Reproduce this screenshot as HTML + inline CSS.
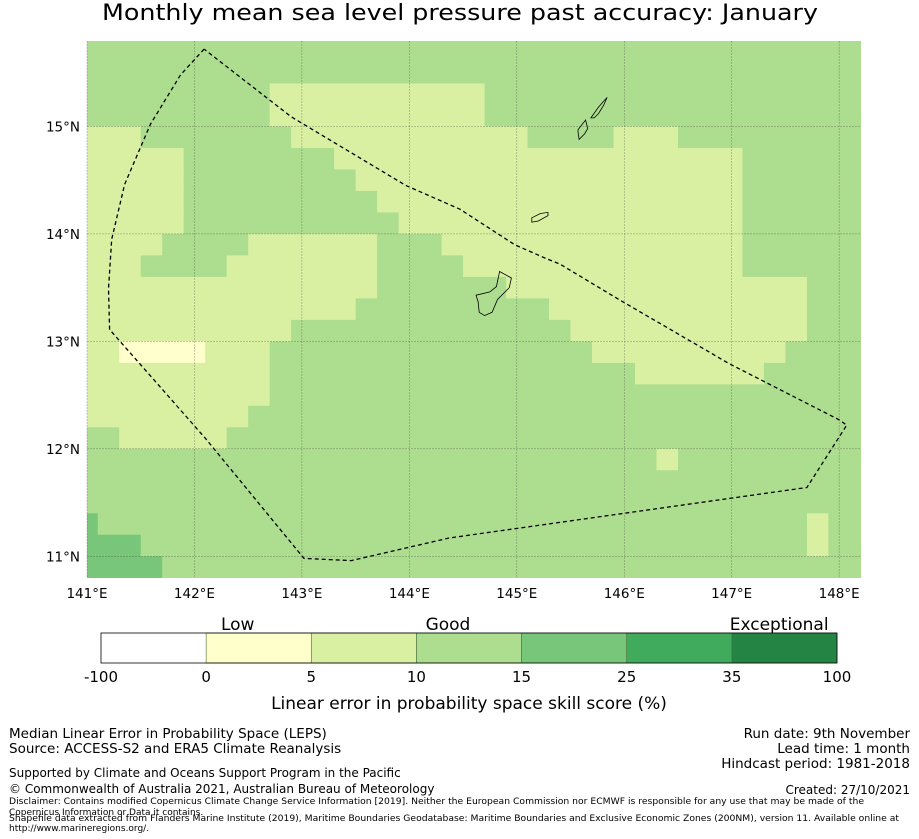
<!DOCTYPE html>
<html><head><meta charset="utf-8"><style>
html,body{margin:0;padding:0;background:#fff;}
svg{display:block;font-family:"DejaVu Sans","Liberation Sans",sans-serif;}
</style></head><body>
<svg id="chart" width="919" height="839" viewBox="0 0 919 839" xmlns="http://www.w3.org/2000/svg">
<text x="460" y="20" font-size="22" text-anchor="middle" textLength="716" lengthAdjust="spacingAndGlyphs">Monthly mean sea level pressure past accuracy: January</text>
<g id="map"></g>
<g id="cbar"></g>
<text x="469" y="709" font-size="17" text-anchor="middle">Linear error in probability space skill score (%)</text>
<g font-size="13.5">
<text x="9" y="738">Median Linear Error in Probability Space (LEPS)</text>
<text x="9" y="753">Source: ACCESS-S2 and ERA5 Climate Reanalysis</text>
<text x="9" y="777" font-size="12">Supported by Climate and Oceans Support Program in the Pacific</text>
<text x="9" y="793" font-size="12">© Commonwealth of Australia 2021, Australian Bureau of Meteorology</text>
<text x="910" y="738" text-anchor="end">Run date: 9th November</text>
<text x="910" y="753" text-anchor="end">Lead time: 1 month</text>
<text x="910" y="768" text-anchor="end">Hindcast period: 1981-2018</text>
<text x="910" y="794" text-anchor="end" font-size="12">Created: 27/10/2021</text>
<text x="9" y="804" font-size="9" textLength="855" lengthAdjust="spacingAndGlyphs">Disclaimer: Contains modified Copernicus Climate Change Service Information [2019]. Neither the European Commission nor ECMWF is responsible for any use that may be made of the</text>
<text x="9" y="815" font-size="9">Copernicus Information or Data it contains.</text>
<text x="9" y="821" font-size="9" textLength="890" lengthAdjust="spacingAndGlyphs">Shapefile data extracted from Flanders Marine Institute (2019), Maritime Boundaries Geodatabase: Maritime Boundaries and Exclusive Economic Zones (200NM), version 11. Available online at</text>
<text x="9" y="831" font-size="9">http://www.marineregions.org/.</text>
</g>
</svg>
<script>
// ---- data ----
const lonCenters0 = 141.0, cellDeg = 0.2;
const latTop = 15.8;
const gridRows = ["c37","c37","c9b10c18","c9b10c18","b3c7b11c4b3c9","b5c7b19c6","b5c8b18c6","b5c9b17c6","b5c10b16c6","b4c4b6c3b14c6","b3c4b7c4b13c6","b14c6b14c3","b13c9b12c3","b10c13b11c3","b2a4b3c15b9c4","b9c17b6c5","b9c28","b8c29","c2b5c30","c27b1c9","c37","c37","d1c33b1c2","d3c31b1c2","d4c33"];
const categoryCodes = ["w","a","b","c","d","e","f"];
const categoryColors = ["#ffffff","#ffffcc","#d9f0a3","#addd8e","#78c679","#41ab5d","#238443"];
const cbarTicks = ["-100","0","5","10","15","25","35","100"];
const cbarTopLabels = ["Low","Good","Exceptional"];
const cbarTopPos = [1.3,3.3,6.45];
const lonTicks = [141,142,143,144,145,146,147,148];
const latTicks = [15,14,13,12,11];
const eezLon = [142.09,141.87,141.59,141.35,141.23,141.20,141.21,142.10,143.02,143.46,144.37,147.70,148.07,148.00,146.98,145.95,145.40,145.25,144.98,144.47,143.97,142.90,142.09];
const eezLat = [15.72,15.48,15.02,14.46,13.95,13.49,13.11,12.10,10.98,10.96,11.17,11.64,12.22,12.27,12.79,13.39,13.72,13.78,13.90,14.23,14.45,15.09,15.72];
const guamLon = [144.84,144.95,144.93,144.82,144.77,144.70,144.65,144.64,144.62,144.75,144.81];
const guamLat = [13.65,13.59,13.50,13.39,13.27,13.24,13.27,13.37,13.43,13.46,13.51];
const rotaLon = [145.14,145.22,145.29,145.29,145.20,145.14];
const rotaLat = [14.15,14.19,14.20,14.17,14.12,14.11];
const tinianLon = [145.57,145.64,145.66,145.63,145.58,145.57];
const tinianLat = [14.97,15.06,14.98,14.93,14.88,14.95];
const saipanLon = [145.69,145.76,145.84,145.81,145.76,145.72];
const saipanLat = [15.08,15.18,15.27,15.20,15.12,15.08];

// ---- axes ----
const X0=87, X1=861, pxDeg=107.45, Y0=40.5;
const xOf = lon => X0 + (lon-141)*pxDeg;
const yOf = lat => Y0 + (latTop-lat)*107.45;
const NS="http://www.w3.org/2000/svg";
function mk(tag, attrs, parent){const e=document.createElementNS(NS,tag);for(const k in attrs)e.setAttribute(k,attrs[k]);parent.appendChild(e);return e;}

const map=document.getElementById('map');
const clip=mk('clipPath',{id:'mapclip'},map);
mk('rect',{x:X0,y:41,width:X1-X0,height:537},clip);
const cells=mk('g',{'clip-path':'url(#mapclip)'},map);


gridRows.forEach((rle,r)=>{
  const runs=rle.match(/[a-z]\d+/g); let c=0;
  const lat0=latTop - r*cellDeg;
  runs.forEach(run=>{
    const code=run[0], n=parseInt(run.slice(1));
    const lonL=lonCenters0 + c*cellDeg - cellDeg/2;
    const x=xOf(lonL), w=n*cellDeg*pxDeg;
    const el=mk('rect',{x:x.toFixed(2),y:yOf(lat0).toFixed(2),width:(w+0.4).toFixed(2),height:(cellDeg*107.45+0.4).toFixed(2),fill:categoryColors[categoryCodes.indexOf(code)]},cells);
    
    
    c+=n;
  });
});
// gridlines
lonTicks.forEach(l=>{const e=mk('line',{x1:xOf(l),x2:xOf(l),y1:41,y2:578,stroke:'#333',"stroke-width":0.5,"stroke-dasharray":"2,1","stroke-opacity":0.5},map);


const t=mk('text',{x:xOf(l),y:598,"font-size":13.5,"text-anchor":"middle"},map);t.textContent=l+"°E";

});
latTicks.forEach(l=>{const e=mk('line',{x1:X0,x2:X1,y1:yOf(l),y2:yOf(l),stroke:'#333',"stroke-width":0.5,"stroke-dasharray":"2,1","stroke-opacity":0.5},map);


const t=mk('text',{x:80,y:yOf(l)+5,"font-size":13.5,"text-anchor":"end"},map);t.textContent=l+"°N";

});
// islands
function poly(lons,lats,name){const p=mk('polygon',{points:lons.map((l,i)=>xOf(l).toFixed(1)+","+yOf(lats[i]).toFixed(1)).join(" "),fill:'none',stroke:'#000',"stroke-width":0.8},map);

}
poly(guamLon,guamLat,'guam-outline');poly(rotaLon,rotaLat,'rota-outline');poly(tinianLon,tinianLat,'tinian-outline');poly(saipanLon,saipanLat,'saipan-outline');
// EEZ
const eez=mk('polyline',{points:eezLon.map((l,i)=>xOf(l).toFixed(1)+","+yOf(eezLat[i]).toFixed(1)).join(" "),fill:'none',stroke:'#000',"stroke-width":1.3,"stroke-dasharray":"4,3"},map);



// colorbar
const cb=document.getElementById('cbar');
const CB0=101, CB1=837, CBY=633, CBH=30, segW=(CB1-CB0)/7;
categoryColors.forEach((col,i)=>{const r=mk('rect',{x:CB0+i*segW,y:CBY,width:segW,height:CBH,fill:col,stroke:i===0?'none':'#4a6e3a',"stroke-width":0.6},cb);

});
mk('rect',{x:CB0,y:CBY,width:CB1-CB0,height:CBH,fill:'none',stroke:'#000',"stroke-width":0.8},cb);
cbarTicks.forEach((t,i)=>{const e=mk('text',{x:CB0+i*segW,y:682,"font-size":15,"text-anchor":"middle"},cb);e.textContent=t;

});
cbarTopLabels.forEach((t,i)=>{const e=mk('text',{x:CB0+cbarTopPos[i]*segW,y:630,"font-size":17,"text-anchor":"middle"},cb);e.textContent=t;

});
</script>
</body></html>
